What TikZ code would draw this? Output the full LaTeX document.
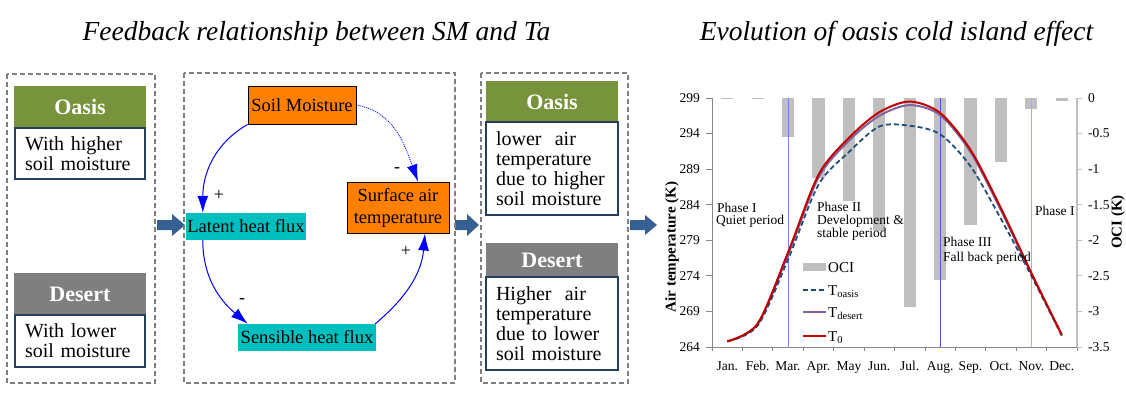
\documentclass[tikz,border=0pt]{standalone}
\usepackage{fontspec}
\setmainfont{Liberation Serif}
\usetikzlibrary{arrows.meta,calc}
\definecolor{oasisgreen}{HTML}{77933C}
\definecolor{desertgray}{HTML}{7F7F7F}
\definecolor{navyb}{HTML}{243F60}
\definecolor{boxgray}{HTML}{7F7F7F}
\definecolor{orng}{HTML}{FF8000}
\definecolor{cyanbox}{HTML}{00BFBF}
\definecolor{blockblue}{HTML}{376092}
\definecolor{barg}{HTML}{BFBFBF}
\definecolor{oasisblue}{HTML}{1F4E79}
\definecolor{desertpurple}{HTML}{8064A2}
\definecolor{tzero}{HTML}{C00000}
\definecolor{axg}{HTML}{868686}
\definecolor{phA}{HTML}{7C7CFF}
\definecolor{phB}{HTML}{5050F0}
\definecolor{phC}{HTML}{A8A8FF}
\newcommand{\myfs}[1]{\fontsize{#1}{#1}\selectfont}
\begin{document}
\begin{tikzpicture}[x=1pt,y=1pt,
  dashbox/.style={draw=boxgray, line width=2pt, dash pattern=on 5pt off 3pt},
  hdr/.style={fill=#1, text=white, font=\myfs{22}\bfseries, minimum width=132pt, inner sep=0pt},
  txtbox/.style={draw=navyb, line width=1.5pt, fill=white, inner xsep=10pt, inner ysep=0pt, align=left, font=\myfs{20}},
  varbox/.style={font=\myfs{18.5}, inner sep=0pt, align=center},
  conn/.style={draw=blue, line width=1pt, -{Latex[length=17pt,width=11pt]}},
  signlab/.style={font=\myfs{18}, inner sep=0pt},
  ticklab/.style={font=\myfs{13.5}, inner sep=0pt},
  phaselab/.style={font=\myfs{13.5}, inner sep=0pt, anchor=base west},
  legl/.style={font=\myfs{15}, inner sep=0pt, anchor=base west},
  ttl/.style={font=\myfs{27.5}\itshape, inner sep=0pt, anchor=base},
]
\useasboundingbox (0,0) rectangle (1126,-394);

% titles
\node[ttl] (t1) at (316.5,-40) {Feedback relationship between SM and Ta};
\node[ttl] (t2) at (896.5,-40) {Evolution of oasis cold island effect};

% ---------- column 1 ----------
\draw[dashbox] (7,-74) rectangle (155,-383);
\node[hdr=oasisgreen, minimum height=42pt] (oL) at (80,-107) {Oasis};
\node[txtbox, text width=110pt, minimum height=51pt] (oLt) at (80,-153.5) {With higher\\soil moisture};
\node[hdr=desertgray, minimum height=42pt] (dL) at (80,-294) {Desert};
\node[txtbox, text width=110pt, minimum height=52pt] (dLt) at (80,-341) {With lower\\soil moisture};

% block arrows
\fill[blockblue] (157,-220) -- (172,-220) -- (172,-214) -- (185,-225) -- (172,-236) -- (172,-230) -- (157,-230) -- cycle;
\fill[blockblue] (455,-220) -- (467,-220) -- (467,-214) -- (479,-225) -- (467,-236) -- (467,-230) -- (455,-230) -- cycle;
\fill[blockblue] (630,-220) -- (645,-220) -- (645,-215) -- (657,-225) -- (645,-235) -- (645,-230) -- (630,-230) -- cycle;

% ---------- column 2 : feedback ----------
\draw[dashbox] (184,-73) rectangle (455,-383);
\node[varbox, fill=orng, draw=black, line width=1pt, minimum width=108pt, minimum height=38pt] (sm) at (302,-105) {Soil Moisture};
\node[varbox, fill=orng, draw=black, line width=1pt, minimum width=102pt, minimum height=51pt, font=\fontsize{18.5}{22}\selectfont] (sta) at (398,-207.5) {Surface air\\temperature};
\node[varbox, fill=cyanbox, minimum width=120pt, minimum height=27pt] (lh) at (246,-226.5) {Latent heat flux};
\node[varbox, fill=cyanbox, minimum width=138pt, minimum height=27pt] (sh) at (307,-337.5) {Sensible heat flux};

\draw[conn] (sm.south west) to[out=210,in=90] ($(lh.north west)+(17,0)$);
\draw[conn, densely dotted, line width=0.8pt] (sm.east) to[out=-10,in=110] ($(sta.north)+(20,0)$);
\draw[conn] ($(lh.south west)+(17,0)$) to[out=-90,in=140] ($(sh.north west)+(10,0)$);
\draw[conn] ($(sh.north east)+(-1,0)$) to[out=40,in=-95] ($(sta.south)+(27,0)$);

\node[signlab] (s1) at (219,-195) {+};
\node[signlab] (s2) at (397,-170) {-};
\node[signlab] (s3) at (242,-301) {-};
\node[signlab] (s4) at (406,-251) {+};

% ---------- column 3 ----------
\draw[dashbox] (481,-73) rectangle (628,-383);
\node[hdr=oasisgreen, minimum height=41pt] (oR) at (552,-101.5) {Oasis};
\node[txtbox, text width=112pt, minimum height=93pt] (oRt) at (552,-168.5) {lower\ \ air\\temperature\\due to higher\\soil moisture};
\node[hdr=desertgray, minimum height=34pt] (dR) at (552,-260) {Desert};
\node[txtbox, text width=112pt, minimum height=93pt] (dRt) at (552,-323.5) {Higher\ \ air\\temperature\\due to lower\\soil moisture};

% ---------- chart ----------
\begin{scope}[shift={(712pt,-98pt)}, x=30.4167pt, y=71.143pt]
  \foreach \m/\o in {1/-0.01, 2/-0.01, 3/-0.55, 4/-1.12, 5/-1.45, 6/-1.87, 7/-2.94, 8/-2.56, 9/-1.78, 10/-0.90, 11/-0.15, 12/-0.04}
    \fill[barg] (\m-0.7,0) rectangle (\m-0.3,\o);
\end{scope}

\begin{scope}[shift={(712pt,-98pt)}, x=30.4167pt, y=7.1143pt]
  % phase lines
  \draw[phA, line width=1pt] (2.5,0) -- (2.5,-35);
  \draw[phB, line width=1.2pt] (7.5,0) -- (7.5,-35);
  \draw[phC, line width=1pt] (10.5,0) -- (10.5,-35);
  % axes
  \draw[axg, line width=0.8pt] (0,0) -- (0,-35);
  \draw[barg, line width=1.5pt] (12,0) -- (12,-35);
  \draw[axg, line width=0.8pt] (0,-35) -- (12,-35);
  \foreach \i in {0,...,12} \draw[axg, line width=0.8pt] (\i,-35) -- ++(0,-4pt);
  \foreach \k/\lab/\r in {0/299/0, 5/294/-0.5, 10/289/-1, 15/284/-1.5, 20/279/-2, 25/274/-2.5, 30/269/-3, 35/264/-3.5} {
    \draw[axg, line width=0.8pt] (0,-\k) -- ++(-6pt,0);
    \draw[barg, line width=1pt] (12,-\k) -- ++(5pt,0);
    \node[ticklab, anchor=east] (yl\k) at ([xshift=-12pt]0,-\k) {\lab};
    \node[ticklab, anchor=west] (yr\k) at ([xshift=11pt]12,-\k) {\r};
  }
  \foreach \m/\n in {1/Jan., 2/Feb., 3/Mar., 4/Apr., 5/May, 6/Jun., 7/Jul., 8/Aug., 9/Sep., 10/Oct., 11/Nov., 12/Dec.}
    \node[ticklab, anchor=base, yshift=-23pt] (mo\m) at (\m-0.5,-35) {\n};
  % curves
  \draw[desertpurple, line width=2pt] plot[smooth] coordinates {(0.5,-34.2) (1.5,-31.8) (2.5,-22) (3.5,-11.2) (4.5,-6) (5.5,-2.5) (6.5,-1.0) (7.5,-2.4) (8.5,-7.6) (9.5,-15.8) (10.5,-24.7) (11.5,-33.3)};
  \draw[oasisblue, line width=1.8pt, dash pattern=on 5pt off 3pt] plot[smooth] coordinates {(0.5,-34.2) (1.5,-32) (2.5,-22.7) (3.5,-12.2) (4.5,-7.6) (5.5,-4.0) (6.5,-3.9) (7.5,-5.1) (8.5,-9.6) (9.5,-17) (10.5,-25) (11.5,-33.4)};
  \draw[tzero, line width=2pt] plot[smooth] coordinates {(0.5,-34.2) (1.5,-31.7) (2.5,-21.7) (3.5,-10.8) (4.5,-5.6) (5.5,-2) (6.5,-0.5) (7.5,-2.1) (8.5,-7.3) (9.5,-15.5) (10.5,-24.6) (11.5,-33.3)};
\end{scope}

% phase labels
\node[phaselab] (p1a) at (717,-212) {Phase I};
\node[phaselab] (p1b) at (716,-224.5) {Quiet period};
\node[phaselab] (p2a) at (817,-211.7) {Phase II};
\node[phaselab] (p2b) at (817,-224.7) {Development \&};
\node[phaselab] (p2c) at (817,-237.7) {stable period};
\node[phaselab] (p3a) at (943,-246.5) {Phase III};
\node[phaselab] (p3b) at (943,-261.5) {Fall back period};
\node[phaselab] (p4a) at (1035,-215) {Phase I};

% legend
\fill[barg] (803,-263) rectangle (826,-271);
\node[legl] (lg1) at (828,-272) {OCI};
\draw[oasisblue, line width=2pt, dash pattern=on 5pt off 3pt] (803,-290) -- (826,-290);
\node[legl] (lg2) at (828,-295) {T\textsubscript{oasis}};
\draw[desertpurple, line width=2pt] (803,-312) -- (826,-312);
\node[legl] (lg3) at (828,-317) {T\textsubscript{desert}};
\draw[tzero, line width=2pt] (803,-336) -- (826,-336);
\node[legl] (lg4) at (828,-341) {T\textsubscript{0}};

% axis titles
\node[font=\myfs{15}\bfseries, rotate=90, inner sep=0pt] (ylab) at (672,-247) {Air temperature (K)};
\node[font=\myfs{15}\bfseries, rotate=90, inner sep=0pt] (y2lab) at (1118,-222) {OCI (K)};
\end{tikzpicture}
\end{document}
